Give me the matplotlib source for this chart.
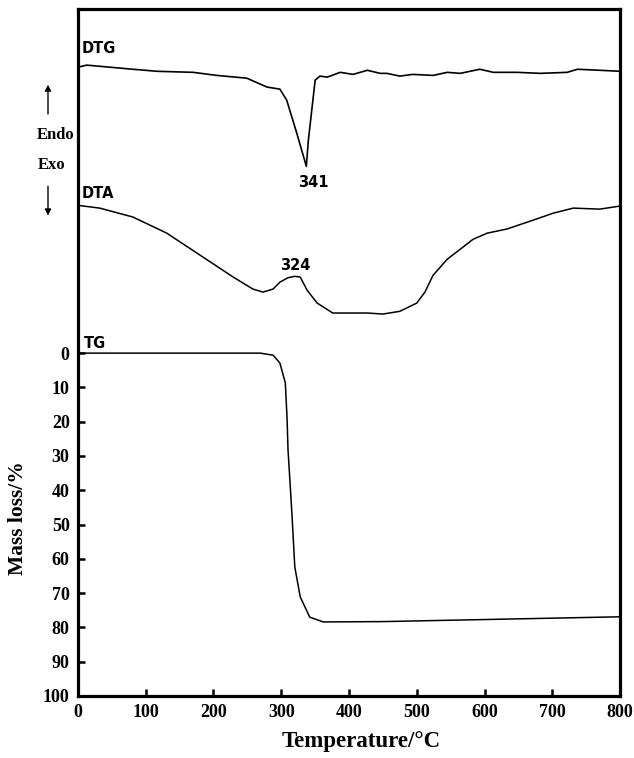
import matplotlib
matplotlib.use("Agg")
import matplotlib.pyplot as plt

# DTG trace (arbitrary units, drawn above TG)
dtg_temp = [0, 13, 47, 81, 117, 170, 205, 249, 279, 298, 308, 323, 337,
            340, 345, 350, 357, 368, 387, 406, 427, 446, 456, 475, 494,
            524, 545, 564, 593, 613, 648, 682, 722, 737, 770, 800]
dtg_val = [-83.4, -84.0, -83.4, -82.8, -82.2, -81.9, -81.0, -80.2, -77.6,
           -77.0, -73.8, -64.1, -54.5, -62.1, -70.8, -79.6, -80.8, -80.5,
           -81.9, -81.3, -82.5, -81.6, -81.6, -80.8, -81.3, -81.0, -81.9,
           -81.6, -82.8, -81.9, -81.9, -81.6, -81.9, -82.8, -82.5, -82.2]

# DTA trace (arbitrary units)
dta_temp = [0, 32, 81, 131, 180, 229, 258, 273, 288, 298, 310, 320, 328,
            338, 353, 376, 401, 427, 450, 475, 500, 512, 524, 545, 568,
            583, 604, 633, 672, 701, 731, 770, 800]
dta_val = [-43.1, -42.3, -39.7, -35.0, -28.6, -22.2, -18.7, -17.8, -18.7,
           -20.7, -22.0, -22.4, -22.2, -18.4, -14.6, -11.7, -11.7, -11.7,
           -11.4, -12.2, -14.6, -17.8, -22.7, -27.4, -30.9, -33.2, -35.0,
           -36.2, -38.8, -40.8, -42.3, -42.0, -42.9]

# TG mass loss (%)
tg_temp = [0, 100, 200, 269, 288, 298, 306, 308.5, 310, 313, 316, 320,
           328, 342, 362, 450, 600, 800]
tg_loss = [0, 0, 0, 0, 0.6, 2.9, 8.7, 18.7, 28.3, 37.9, 47.8, 62.4,
           71.1, 77.0, 78.4, 78.3, 77.7, 76.9]

x_ticks = [0, 100, 200, 300, 400, 500, 600, 700, 800]
y_ticks = [0, 10, 20, 30, 40, 50, 60, 70, 80, 90, 100]

serif = "Liberation Serif"
sans = "DejaVu Sans"

fig = plt.figure(figsize=(6.34, 7.58), dpi=100)
ax = fig.add_axes([0.123, 0.0818, 0.855, 0.906])

ax.plot(dtg_temp, dtg_val, color="black", lw=1.2)
ax.plot(dta_temp, dta_val, color="black", lw=1.1)
ax.plot(tg_temp, tg_loss, color="black", lw=1.1)

ax.set_xlim(0, 800)
ax.set_ylim(100, -100.3)
ax.set_xticks(x_ticks)
ax.set_yticks(y_ticks)
ax.tick_params(direction="in", length=5, width=1.8, pad=6)
for lab in ax.get_xticklabels() + ax.get_yticklabels():
    lab.set_fontfamily(serif)
    lab.set_fontweight("bold")
    lab.set_fontsize(13)
for sp in ax.spines.values():
    sp.set_linewidth(2.3)

ax.set_xlabel("Temperature/°C", fontfamily=serif, fontweight="bold", fontsize=16.5)
ax.xaxis.set_label_coords(0.522, -0.051)
ax.set_ylabel("Mass loss/%", fontfamily=serif, fontweight="bold", fontsize=15.5)
ax.yaxis.set_label_coords(-0.092, 0.259)

# curve labels
ax.text(6, -88.9, "DTG", family=sans, fontweight="bold", fontsize=10.5, va="center")
ax.text(6, -46.6, "DTA", family=sans, fontweight="bold", fontsize=10.5, va="center")
ax.text(9, -2.9, "TG", family=sans, fontweight="bold", fontsize=10.5, va="center")
ax.text(347, -49.9, "341", family=sans, fontweight="bold", fontsize=10.5,
        ha="center", va="center")
ax.text(320, -25.7, "324", family=sans, fontweight="bold", fontsize=10.5,
        ha="center", va="center")

# Endo / Exo markers on the left
fig.text(0.087, 0.822, "Endo", family=serif, fontweight="bold", fontsize=12,
         ha="center", va="center")
fig.text(0.082, 0.782, "Exo", family=serif, fontweight="bold", fontsize=12,
         ha="center", va="center")
arrow = dict(arrowstyle="-|>", color="black", lw=1.0, mutation_scale=9)
ax.annotate("", xy=(0.0757, 0.892), xytext=(0.0757, 0.846),
            xycoords="figure fraction", textcoords="figure fraction",
            arrowprops=arrow, annotation_clip=False)
ax.annotate("", xy=(0.0757, 0.712), xytext=(0.0757, 0.758),
            xycoords="figure fraction", textcoords="figure fraction",
            arrowprops=arrow, annotation_clip=False)

fig.savefig("out.png", dpi=100)
